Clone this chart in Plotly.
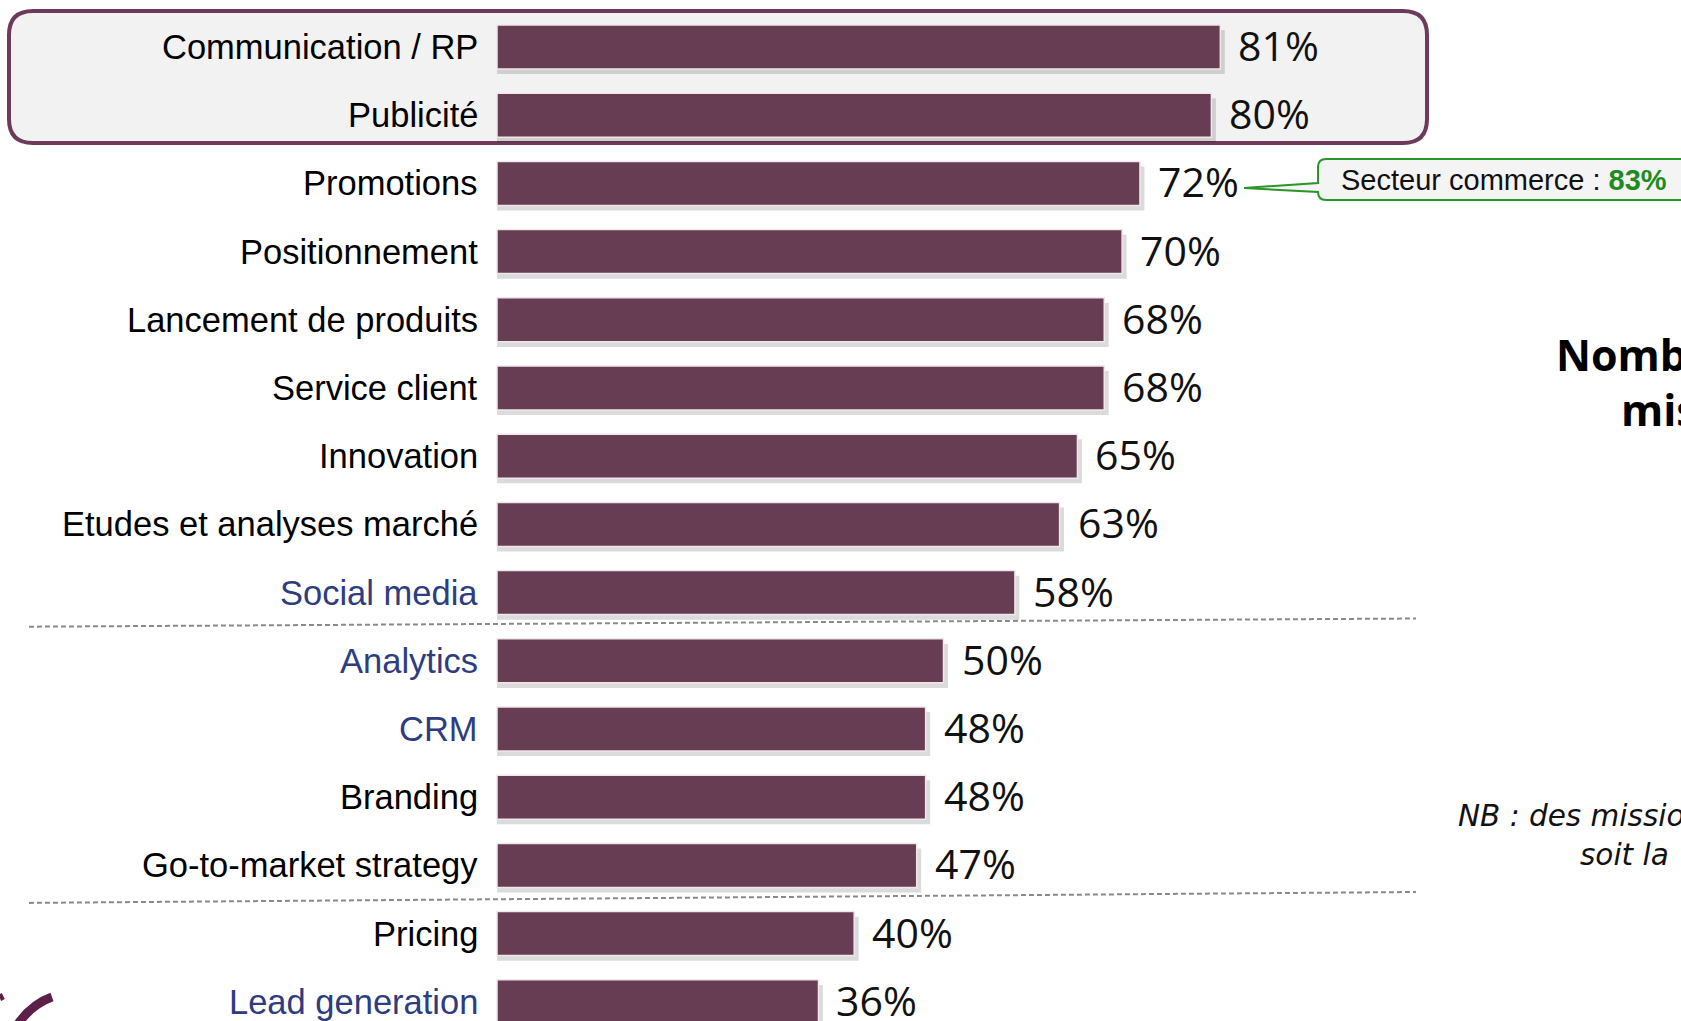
import plotly.graph_objects as go

# ---------------- data ----------------
categories = ["Communication / RP", "Publicité", "Promotions", "Positionnement",
              "Lancement de produits", "Service client", "Innovation",
              "Etudes et analyses marché", "Social media", "Analytics", "CRM",
              "Branding", "Go-to-market strategy", "Pricing", "Lead generation"]
values = [81, 80, 72, 70, 68, 68, 65, 63, 58, 50, 48, 48, 47, 40, 36]
highlight_blue = ["Social media", "Analytics", "CRM", "Lead generation"]
callout_text = "Secteur commerce : "
callout_value = "83%"
side_title = ["Nombre moyen de", "missions confiées"]
nb_text = ["NB : des missions multiples sont possibles,", "soit la     totalité des répondants"]

# ---------------- layout helpers ----------------
W, H = 1681, 1021
BAR_COLOR = "#663d53"
BLUE = "#2e3c80"
ypos = list(range(len(categories)))
bar_w = 0.645


def px(x):
    return x / W


def py(y):
    return 1 - y / H


def P(x, y):
    return f"{px(x):.5f},{py(y):.5f}"


fig = go.Figure()

# soft shadow under bars
fig.add_trace(go.Bar(
    x=[v + 0.5 for v in values], y=ypos, orientation="h",
    width=bar_w, offset=-bar_w / 2 + 0.075,
    marker=dict(color="rgba(0,0,0,0.14)", line=dict(width=0)),
    hoverinfo="skip", showlegend=False,
))
# main bars
fig.add_trace(go.Bar(
    x=values, y=ypos, orientation="h",
    width=bar_w, offset=-bar_w / 2,
    marker=dict(color=BAR_COLOR, line=dict(color="#f0e6eb", width=1.5)),
    showlegend=False,
))

annotations = []
for c, v, i in zip(categories, values, ypos):
    annotations.append(dict(
        x=0, y=i, xref="x", yref="y", text=c, showarrow=False,
        xanchor="right", yanchor="middle", xshift=-17,
        font=dict(family="Liberation Sans, Arial", size=34.5,
                  color=BLUE if c in highlight_blue else "#000000"),
    ))
    annotations.append(dict(
        x=v, y=i, xref="x", yref="y", text=f"{v}%", showarrow=False,
        xanchor="left", yanchor="middle", xshift=16, yshift=2,
        font=dict(family="Open Sans, Noto Sans, sans-serif", size=41, color="#111111"),
    ))

# callout text
annotations.append(dict(
    x=px(1339), y=py(180), xref="paper", yref="paper",
    text=f"{callout_text}<b><span style='color:#1e8c1e'>{callout_value}</span></b>",
    showarrow=False, xanchor="left", yanchor="middle",
    font=dict(family="Liberation Sans, Arial", size=29, color="#111111"),
))
# side title (clipped at the right edge, as in the original)
annotations.append(dict(
    x=px(1554), y=py(354), xref="paper", yref="paper", text=f"<b>{side_title[0]}</b>",
    showarrow=False, xanchor="left", yanchor="middle",
    font=dict(family="Open Sans, sans-serif", size=43, color="#000000"),
))
annotations.append(dict(
    x=px(1619), y=py(410), xref="paper", yref="paper", text=f"<b>{side_title[1]}</b>",
    showarrow=False, xanchor="left", yanchor="middle",
    font=dict(family="Open Sans, sans-serif", size=43, color="#000000"),
))
# NB text
annotations.append(dict(
    x=px(1456), y=py(816), xref="paper", yref="paper", text=f"<i>{nb_text[0]}</i>",
    showarrow=False, xanchor="left", yanchor="middle",
    font=dict(family="DejaVu Sans", size=29.5, color="#111111"),
))
annotations.append(dict(
    x=px(1578), y=py(855), xref="paper", yref="paper",
    text=f"<i>{nb_text[1].replace('     ', '&nbsp;&nbsp;&nbsp;&nbsp;&nbsp;')}</i>",
    showarrow=False, xanchor="left", yanchor="middle",
    font=dict(family="DejaVu Sans", size=29.5, color="#111111"),
))

shapes = []
# rounded highlight box around the first two rows
x0, x1, y0, y1, r = 9, 1427, 11, 143, 24
path = (f"M {P(x0 + r, y0)} L {P(x1 - r, y0)} Q {P(x1, y0)} {P(x1, y0 + r)} "
        f"L {P(x1, y1 - r)} Q {P(x1, y1)} {P(x1 - r, y1)} L {P(x0 + r, y1)} "
        f"Q {P(x0, y1)} {P(x0, y1 - r)} L {P(x0, y0 + r)} Q {P(x0, y0)} {P(x0 + r, y0)} Z")
shapes.append(dict(type="path", xref="paper", yref="paper", path=path,
                   fillcolor="#f2f2f2", line=dict(color="#6d3a5b", width=4), layer="below"))

# callout box with pointer
bx0, bx1, by0, by1, br = 1318, 1720, 159, 200, 8
cpath = (f"M {P(bx0 + br, by0)} L {P(bx1, by0)} L {P(bx1, by1)} L {P(bx0 + br, by1)} "
         f"Q {P(bx0, by1)} {P(bx0, by1 - br)} L {P(bx0, 192)} L {P(1244, 188)} "
         f"L {P(bx0, 183)} L {P(bx0, by0 + br)} Q {P(bx0, by0)} {P(bx0 + br, by0)} Z")
shapes.append(dict(type="path", xref="paper", yref="paper", path=cpath,
                   fillcolor="#f4f4f4", line=dict(color="#2a962a", width=2), layer="above"))

# dashed separators (slightly tilted as in the original)
for ya, yb in [(8.5, 8.38), (12.55, 12.39)]:
    shapes.append(dict(type="line", xref="paper", yref="y",
                       x0=px(29), x1=px(1416), y0=ya, y1=yb,
                       line=dict(color="#8a8a8a", width=2, dash="5px,3px"), layer="below"))

# logo fragment at bottom-left
shapes.append(dict(type="path", xref="paper", yref="paper",
                   path=f"M {P(18, 1024)} Q {P(32, 1004)} {P(52, 997)}",
                   line=dict(color="#5c1f48", width=9)))
shapes.append(dict(type="path", xref="paper", yref="paper",
                   path=f"M {P(0, 994)} L {P(3, 1000)}",
                   line=dict(color="#5c1f48", width=4)))

x_scale = 8.93
fig.update_layout(
    width=W, height=H,
    margin=dict(l=0, r=0, t=0, b=0),
    paper_bgcolor="white", plot_bgcolor="white",
    barmode="overlay",
    xaxis=dict(range=[-497 / x_scale, (W - 497) / x_scale], visible=False,
               showgrid=False, zeroline=False),
    yaxis=dict(range=[(H - 47) / 68.2, -47 / 68.2], visible=False,
               showgrid=False, zeroline=False),
    annotations=annotations,
    shapes=shapes,
    showlegend=False,
)

fig.write_html("out.html")
